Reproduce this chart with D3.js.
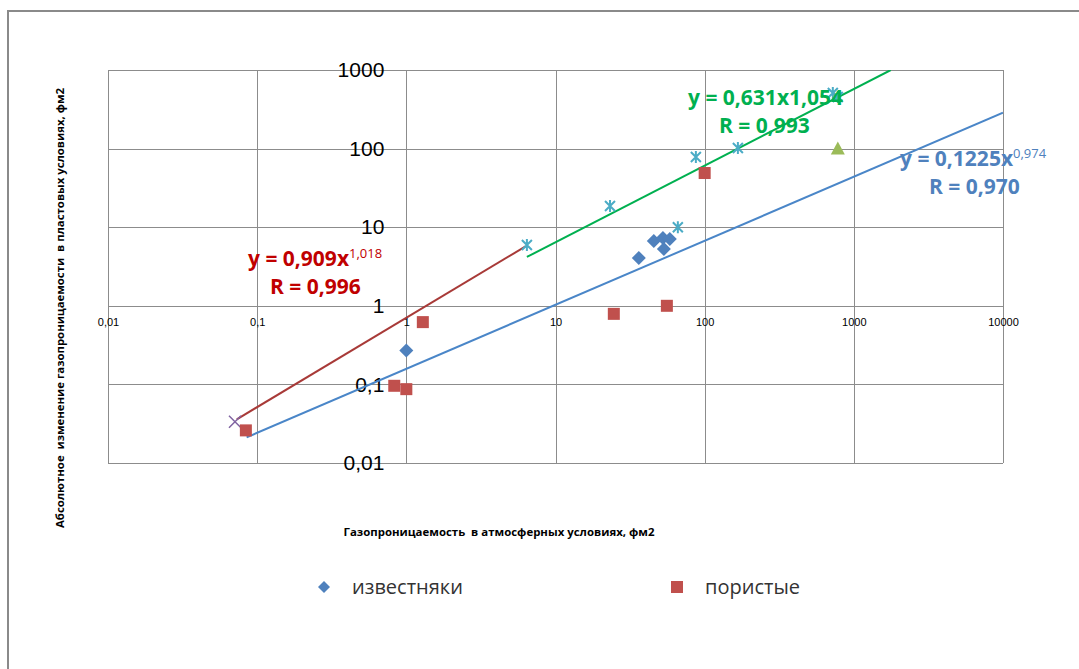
<!DOCTYPE html>
<html>
<head>
<meta charset="utf-8">
<script src="https://cdn.jsdelivr.net/npm/d3@7"></script>
<style>
  body { margin: 0; background: #fff; }
  svg { display: block; font-family: "Open Sans", "Noto Sans", sans-serif; }
</style>
</head>
<body>
<script>
// x ticks / y ticks (log scales)
const xTicks = [0.01, 0.1, 1, 10, 100, 1000, 10000];
const xTickLabels = ["0,01", "0,1", "1", "10", "100", "1000", "10000"];
const yTicks = [0.01, 0.1, 1, 10, 100, 1000];
const yTickLabels = ["0,01", "0,1", "1", "10", "100", "1000"];

// известняки (blue diamonds)
const limeX = [1, 36.2, 45.6, 52.5, 58.4, 53.3];
const limeY = [0.27, 4.06, 6.67, 7.29, 7.08, 5.28];
// пористые (red squares)
const poreX = [1.29, 0.83, 1.0, 0.084, 24.6, 55.8, 100];
const poreY = [0.62, 0.096, 0.087, 0.026, 0.79, 1.0, 48.9];
// other series
const starX = [6.43, 23.2, 87.3, 167, 66.1, 723, 781];
const starY = [5.94, 18.6, 78.2, 102, 10, 510, 453];
const crossX = [0.071];
const crossY = [0.0335];
const triX = [781];
const triY = [100];

// trend lines (end points)
const redTrendX = [0.073, 6.3];
const redTrendY = [0.036, 5.7];
const greenTrendX = [6.43, 1770];
const greenTrendY = [4.18, 1000];
const blueTrendX = [0.085, 10000];
const blueTrendY = [0.0212, 286];

const width = 1079;
const height = 669;

const svg = d3.select("body")
  .append("svg")
  .attr("width", width)
  .attr("height", height);

// outer chart frame
svg.append("rect")
  .attr("x", 8).attr("y", 11)
  .attr("width", 1200).attr("height", 800)
  .attr("fill", "none")
  .attr("stroke", "#8a8a8a")
  .attr("stroke-width", 2);

const x = d3.scaleLog().domain([0.01, 10000]).range([108, 1003]);
const y = d3.scaleLog().domain([0.01, 1000]).range([463, 70]);

const grid = svg.append("g").attr("stroke", "#8c8c8c").attr("stroke-width", 1);
grid.selectAll(".vx")
  .data(xTicks)
  .enter()
  .append("line")
  .attr("x1", (d) => Math.round(x(d)) + 0.5)
  .attr("x2", (d) => Math.round(x(d)) + 0.5)
  .attr("y1", y(1000))
  .attr("y2", y(0.01));
grid.selectAll(".hy")
  .data(yTicks)
  .enter()
  .append("line")
  .attr("y1", (d) => Math.round(y(d)) + 0.5)
  .attr("y2", (d) => Math.round(y(d)) + 0.5)
  .attr("x1", x(0.01))
  .attr("x2", x(10000));

// axes crossing at 1
const xAxis = d3.axisBottom(x)
  .tickValues(xTicks)
  .tickSize(0)
  .tickPadding(12)
  .tickFormat((d, i) => xTickLabels[i]);
svg.append("g")
  .attr("transform", `translate(0, ${y(1)})`)
  .call(xAxis)
  .call((g) => g.select(".domain").remove())
  .selectAll("text")
  .style("font-size", "11px")
  .attr("fill", "#000");

const yAxis = d3.axisLeft(y)
  .tickValues(yTicks)
  .tickSize(0)
  .tickPadding(22)
  .tickFormat((d, i) => yTickLabels[i]);
svg.append("g")
  .attr("transform", `translate(${x(1)}, 0)`)
  .call(yAxis)
  .call((g) => g.select(".domain").remove())
  .selectAll("text")
  .style("font-size", "21px")
  .attr("fill", "#000");

// clip for trend lines
svg.append("clipPath").attr("id", "plot")
  .append("rect")
  .attr("x", x(0.01)).attr("y", y(1000))
  .attr("width", x(10000) - x(0.01))
  .attr("height", y(0.01) - y(1000));

const line = d3.line().x((d) => x(d[0])).y((d) => y(d[1]));
const trends = [
  [redTrendX, redTrendY, "#a83a38"],
  [greenTrendX, greenTrendY, "#00b050"],
  [blueTrendX, blueTrendY, "#4a86c8"],
];
trends.forEach(([tx, ty, c]) => {
  svg.append("path")
    .datum(tx.map((v, i) => [v, ty[i]]))
    .attr("clip-path", "url(#plot)")
    .attr("d", line)
    .attr("fill", "none")
    .attr("stroke", c)
    .attr("stroke-width", 2);
});

// markers
const zip = (a, b) => a.map((v, i) => [v, b[i]]);

svg.selectAll(".star")
  .data(zip(starX, starY))
  .enter()
  .append("path")
  .attr("transform", (d) => `translate(${x(d[0])},${y(d[1])})`)
  .attr("d", "M-5,-5L5,5M-5,5L5,-5M0,-6L0,6")
  .attr("stroke", "#4bacc6")
  .attr("stroke-width", 2)
  .attr("fill", "none");

svg.selectAll(".cross")
  .data(zip(crossX, crossY))
  .enter()
  .append("path")
  .attr("transform", (d) => `translate(${x(d[0])},${y(d[1])})`)
  .attr("d", "M-6,-6L6,6M-6,6L6,-6")
  .attr("stroke", "#8064a2")
  .attr("stroke-width", 1.5)
  .attr("fill", "none");

svg.selectAll(".tri")
  .data(zip(triX, triY))
  .enter()
  .append("path")
  .attr("transform", (d) => `translate(${x(d[0])},${y(d[1])})`)
  .attr("d", "M0,-7L7,6L-7,6Z")
  .attr("fill", "#9bbb59");

svg.selectAll(".sq")
  .data(zip(poreX, poreY))
  .enter()
  .append("rect")
  .attr("x", (d) => x(d[0]) - 6)
  .attr("y", (d) => y(d[1]) - 6)
  .attr("width", 12)
  .attr("height", 12)
  .attr("fill", "#c0504d");

svg.selectAll(".dia")
  .data(zip(limeX, limeY))
  .enter()
  .append("path")
  .attr("transform", (d) => `translate(${x(d[0])},${y(d[1])})`)
  .attr("d", "M0,-7L7,0L0,7L-7,0Z")
  .attr("fill", "#4f81bd");

// trend labels
function eqLabel(lx, ly, main, sup, rx, rtext, color) {
  const t = svg.append("text")
    .attr("x", lx).attr("y", ly)
    .attr("fill", color)
    .style("font-size", "21px")
    .style("font-weight", "bold")
    .text(main);
  if (sup) {
    t.append("tspan")
      .attr("dy", -8)
      .style("font-size", "13px")
      .style("font-weight", "normal")
      .text(sup);
  }
  svg.append("text")
    .attr("x", rx).attr("y", ly + 28)
    .attr("fill", color)
    .style("font-size", "21px")
    .style("font-weight", "bold")
    .text(rtext);
}
eqLabel(248, 266, "y = 0,909x", "1,018", 270, "R = 0,996", "#c00000");
eqLabel(688, 105, "y = 0,631x1,054", null, 719, "R = 0,993", "#00b050");
eqLabel(900, 166, "y = 0,1225x", "0,974", 929, "R = 0,970", "#4f81bd");

// axis titles
svg.append("text")
  .attr("transform", "translate(64, 308) rotate(-90)")
  .attr("text-anchor", "middle")
  .attr("textLength", 440)
  .attr("lengthAdjust", "spacingAndGlyphs")
  .style("font-size", "11px")
  .style("font-weight", "bold")
  .style("white-space", "pre")
  .text("Абсолютное  изменение газопроницаемости  в пластовых условиях, фм2");

svg.append("text")
  .attr("x", 499).attr("y", 536)
  .attr("text-anchor", "middle")
  .attr("textLength", 311)
  .attr("lengthAdjust", "spacingAndGlyphs")
  .style("font-size", "11px")
  .style("font-weight", "bold")
  .style("white-space", "pre")
  .text("Газопроницаемость  в атмосферных условиях, фм2");

// legend
const legend = svg.append("g");
legend.append("path")
  .attr("transform", "translate(324, 587)")
  .attr("d", "M0,-6L6,0L0,6L-6,0Z")
  .attr("fill", "#4f81bd");
legend.append("text")
  .attr("x", 352).attr("y", 594)
  .attr("fill", "#333")
  .style("font-size", "20px")
  .text("известняки");
legend.append("rect")
  .attr("x", 671).attr("y", 581)
  .attr("width", 12).attr("height", 12)
  .attr("fill", "#c0504d");
legend.append("text")
  .attr("x", 705).attr("y", 594)
  .attr("fill", "#333")
  .style("font-size", "20px")
  .text("пористые");
</script>
</body>
</html>
